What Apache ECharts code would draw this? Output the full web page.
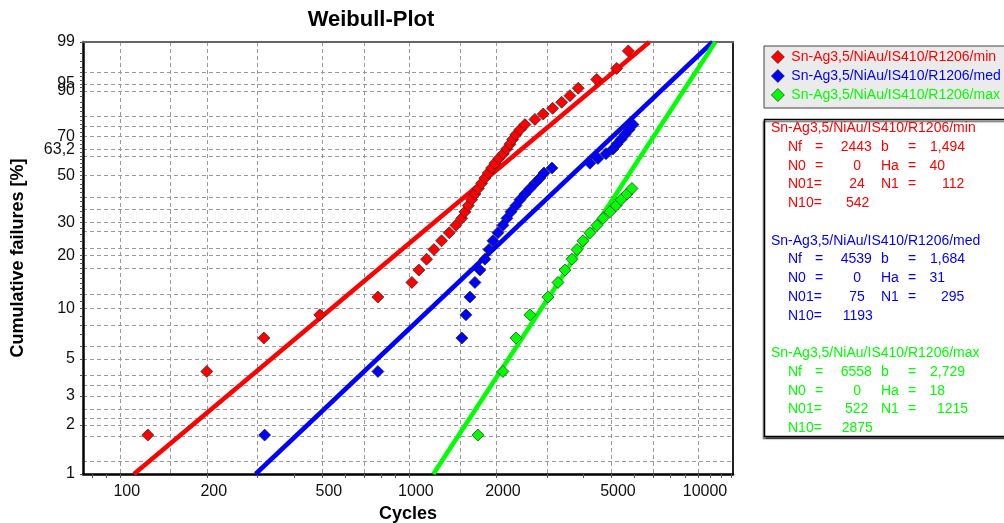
<!DOCTYPE html>
<html><head><meta charset="utf-8">
<script src="https://cdn.jsdelivr.net/npm/echarts@6/dist/echarts.min.js"></script>
<style>html,body{margin:0;padding:0;background:#fff}#c{width:1004px;height:523px}</style>
</head><body><div id="c"></div>
<script>
// ---------- data ----------
const seriesNames = ['Sn-Ag3,5/NiAu/IS410/R1206/min','Sn-Ag3,5/NiAu/IS410/R1206/med','Sn-Ag3,5/NiAu/IS410/R1206/max'];
const seriesColors = ['#ff0000','#0000ff','#00ff00'];

// cumulative failure [%] per rank (median ranks)
const failRanks = [1.73,4.21,6.68,9.16,11.63,14.11,16.58,19.06,21.53,24.01,26.49,28.96,31.44,33.91,36.39,38.86,41.34,43.81,46.29,48.76,
                   51.24,53.71,56.19,58.66,61.14,63.61,66.09,68.56,71.04,73.51,75.99,78.47,80.94,83.42,85.89,88.37,90.84,93.32,95.79,98.27];

const minCycles = [125,200,315,492,781,1024,1083,1151,1221,1297,1379,1454,1522,1563,1604,1648,1692,1737,1785,1832,
                   1881,1933,1984,2048,2120,2178,2236,2285,2346,2422,2520,2729,2915,3142,3377,3607,3853,4462,5233,5740];
const medCycles = [317,781,1525,1575,1626,1692,1761,1832,1892,1953,2032,2115,2183,2254,2346,2422,2520,2623,2729,2840,
                   2932,3125,4229,4508,4805,5080,5245,5415,5590,5772,5958];
const maxCycles = [1733,2115,2346,2623,3027,3278,3466,3664,3814,4000,4229,4472,4692,4960,5204,5415,5680,5910];

// fitted Weibull lines: end points (cycles at 1 % and 99 %)
const fitFail = [1, 99];
const minFitCycles = [112, 6790];
const medFitCycles = [295, 11230];
const maxFitCycles = [1215, 11480];

// parameter box
const paramNf  = [2443, 4539, 6558];
const paramB   = ['1,494', '1,684', '2,729'];
const paramN0  = [0, 0, 0];
const paramHa  = [40, 31, 18];
const paramN01 = [24, 75, 522];
const paramN1  = [112, 295, 1215];
const paramN10 = [542, 1193, 2875];

// axes
const xRange = [74.6, 13215];
const yRange = [1, 99];
const xLabelValues = [100, 200, 500, 1000, 2000, 5000, 10000];
const xGridValues = [100, 150, 200, 300, 500, 700, 1000, 1500, 2000, 3000, 5000, 7000, 10000];
const xTickValues = [80, 90, 100, 200, 300, 400, 500, 600, 700, 800, 900, 1000, 2000, 3000, 4000, 5000, 6000, 7000, 8000, 9000, 10000, 11000, 12000, 13000];
const yLabelTexts = ['99', '95', '90', '70', '63,2', '50', '30', '20', '10', '5', '3', '2', '1'];
const yLabelPos   = [99, 92.3, 90, 70, 63.2, 50, 30, 20, 10, 5, 3, 2, 1];
const yGridValues = [1.2, 1.7, 2, 2.2, 2.5, 3, 3.5, 4, 5, 6, 8, 10, 12, 17, 20, 22, 27, 30, 35, 40, 50, 60, 63.2, 70, 75, 80, 90, 92, 95];
const yTickValues = [1,2,3,4,5,6,7,8,9,10,11,12,13,14,15,16,17,18,19,20,22,24,26,28,30,32,34,36,38,40,42,44,46,48,50,
                     52,54,56,58,60,62,64,66,68,70,72,74,76,78,80,82,84,86,88,90,91,92,93,94,95,96,97,98,99];

// ---------- build ----------
const FONT = '"Liberation Sans", Arial, sans-serif';
const wb = p => Math.log(-Math.log(1 - p / 100));
const lg = n => Math.log10(n);
const nearest = (arr, v, f) => { let b = 0; arr.forEach((x, i) => { if (Math.abs(f(x) - v) < Math.abs(f(arr[b]) - v)) b = i; }); return b; };

const cyclesArr = [minCycles, medCycles, maxCycles];
const fitArr = [minFitCycles, medFitCycles, maxFitCycles];

const series = [];
fitArr.forEach((fc, k) => {
  series.push({
    type: 'line', xAxisIndex: 0, yAxisIndex: 0, silent: true, symbol: 'none', z: 2,
    data: fc.map((c, i) => [lg(c), wb(fitFail[i])]),
    lineStyle: { color: seriesColors[k], width: 4.5 }
  });
});
cyclesArr.forEach((cs, k) => {
  series.push({
    type: 'scatter', name: seriesNames[k], xAxisIndex: 0, yAxisIndex: 0, z: 3,
    symbol: 'diamond', symbolSize: 12,
    data: cs.map((c, i) => [lg(c), wb(failRanks[i])]),
    itemStyle: { color: seriesColors[k], borderColor: '#222', borderWidth: 0.7, opacity: 1 }
  });
});

// parameter text graphics
const graphics = [{
  type: 'rect', z: 1,
  shape: { x: 764.5, y: 119.5, width: 260, height: 317 },
  style: { fill: '#fff', stroke: '#000', lineWidth: 1.5, shadowColor: 'rgba(0,0,0,0.55)', shadowOffsetX: -1, shadowOffsetY: 2, shadowBlur: 1 }
}];
const txt = (s, x, y, color, align) => ({
  type: 'text', z: 5, x, y,
  style: { text: String(s), fill: color, font: '14px ' + FONT, align: align, textAlign: align, verticalAlign: 'middle', textVerticalAlign: 'middle' }
});
seriesNames.forEach((name, k) => {
  const col = seriesColors[k];
  const row = r => 128.3 + (k * 6 + r) * 18.75;
  const rv = s => 857.5 + 3.6 * String(s).length;
  const rv2 = s => 953.3 + 3.7 * String(s).length;
  graphics.push(txt(name, 771, row(0), col, 'left'));
  graphics.push(txt('Nf', 788, row(1), col, 'left'), txt('=', 815, row(1), col, 'left'), txt(paramNf[k], rv(paramNf[k]), row(1), col, 'right'),
                txt('b', 881, row(1), col, 'left'), txt('=', 908, row(1), col, 'left'), txt(paramB[k], 930, row(1), col, 'left'));
  graphics.push(txt('N0', 788, row(2), col, 'left'), txt('=', 815, row(2), col, 'left'), txt(paramN0[k], rv(paramN0[k]), row(2), col, 'right'),
                txt('Ha', 881, row(2), col, 'left'), txt('=', 908, row(2), col, 'left'), txt(paramHa[k], 929.5, row(2), col, 'left'));
  graphics.push(txt('N01=', 788, row(3), col, 'left'), txt(paramN01[k], rv(paramN01[k]), row(3), col, 'right'),
                txt('N1', 881, row(3), col, 'left'), txt('=', 908, row(3), col, 'left'), txt(paramN1[k], rv2(paramN1[k]), row(3), col, 'right'));
  graphics.push(txt('N10=', 788, row(4), col, 'left'), txt(paramN10[k], rv(paramN10[k]) + 1, row(4), col, 'right'));
});

const gridDash = { color: '#9a9a9a', width: 1, type: [4, 3] };

const option = {
  backgroundColor: '#fff',
  animation: false,
  title: {
    text: 'Weibull-Plot', left: 366, top: 4, textAlign: 'center',
    textStyle: { fontFamily: FONT, fontSize: 22, fontWeight: 'bold', color: '#000' }
  },
  legend: {
    data: seriesNames.map((n, k) => ({ name: n, textStyle: { color: seriesColors[k] } })),
    orient: 'vertical', left: 764, top: 46, icon: 'diamond',
    itemWidth: 13, itemHeight: 13, itemGap: 5, padding: [4, 20, 6, 7],
    backgroundColor: '#ebebeb', borderColor: '#444', borderWidth: 1, borderRadius: 0,
    selectedMode: false,
    itemStyle: { borderWidth: 0.7, borderColor: '#222' },
    textStyle: { fontFamily: FONT, fontSize: 14, lineHeight: 14, padding: [0, 0, 0, 2] }
  },
  grid: { left: 83, right: 271, top: 42, bottom: 49, containLabel: false, outerBoundsMode: 'none' },
  xAxis: [{
    type: 'value', position: 'bottom', min: lg(xRange[0]), max: lg(xRange[1]),
    axisLine: { onZero: false, lineStyle: { color: '#000', width: 2.5 } },
    axisTick: { customValues: xTickValues.map(lg), length: 4, lineStyle: { color: '#555', width: 1 } },
    axisLabel: {
      customValues: xLabelValues.map(lg), fontFamily: FONT, fontSize: 16, color: '#111', margin: 10, padding: [0, 0, 0, 14],
      formatter: v => String(xLabelValues[nearest(xLabelValues, v, lg)])
    },
    splitLine: { show: false },
    name: 'Cycles', nameLocation: 'middle', nameGap: 30,
    nameTextStyle: { fontFamily: FONT, fontSize: 18, fontWeight: 'bold', color: '#000' }
  }, {
    type: 'value', position: 'top', min: lg(xRange[0]), max: lg(xRange[1]),
    axisLine: { onZero: false, lineStyle: { color: '#666', width: 2 } },
    axisTick: { show: false, customValues: xGridValues.map(lg) },
    axisLabel: { show: false },
    splitLine: { show: true, lineStyle: gridDash }
  }],
  yAxis: [{
    type: 'value', position: 'left', min: wb(yRange[0]), max: wb(yRange[1]),
    axisLine: { onZero: false, lineStyle: { color: '#000', width: 2.5 } },
    axisTick: { customValues: yTickValues.map(wb), length: 3, lineStyle: { color: '#555', width: 1 } },
    axisLabel: {
      customValues: yLabelPos.map(wb), fontFamily: FONT, fontSize: 16, color: '#111', margin: 8,
      formatter: v => yLabelTexts[nearest(yLabelPos, v, wb)]
    },
    splitLine: { show: false },
    name: 'Cumulative failures [%]', nameLocation: 'middle', nameGap: 56,
    nameTextStyle: { fontFamily: FONT, fontSize: 18, fontWeight: 'bold', color: '#000' }
  }, {
    type: 'value', position: 'right', min: wb(yRange[0]), max: wb(yRange[1]),
    axisLine: { onZero: false, lineStyle: { color: '#222', width: 2 } },
    axisTick: { show: false, customValues: yGridValues.map(wb) },
    axisLabel: { show: false },
    splitLine: { show: true, lineStyle: gridDash }
  }],
  graphic: graphics,
  series: series
};

const chart = echarts.init(document.getElementById('c'));
chart.setOption(option);
</script>
</body></html>
